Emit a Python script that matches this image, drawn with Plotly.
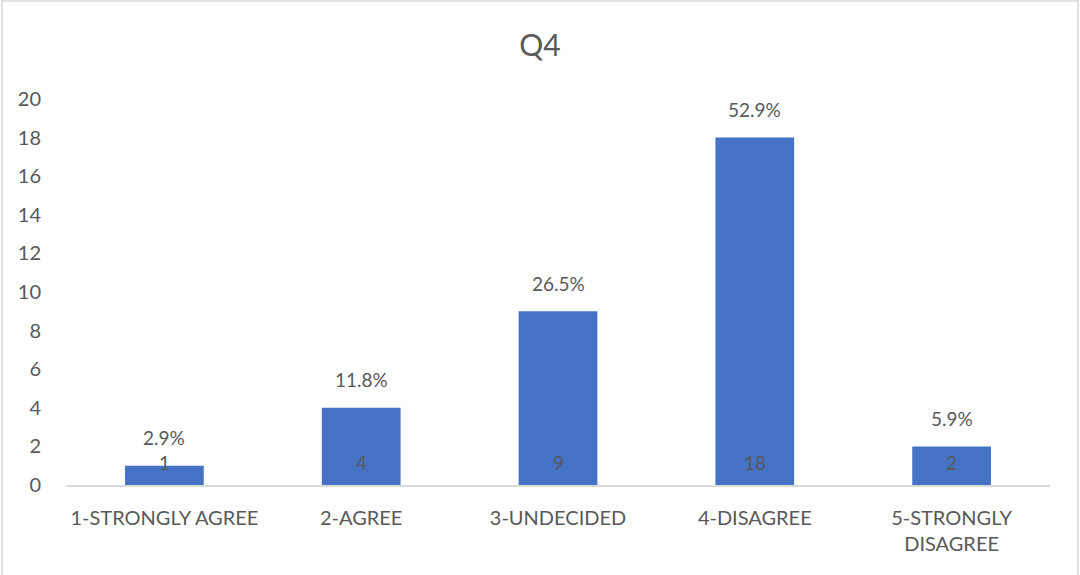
import plotly.graph_objects as go

# Survey responses for Q4
categories = ["1-STRONGLY AGREE", "2-AGREE", "3-UNDECIDED", "4-DISAGREE", "5-STRONGLY<br>DISAGREE"]
counts = [1, 4, 9, 18, 2]
y_ticks = [0, 2, 4, 6, 8, 10, 12, 14, 16, 18, 20]

total = sum(counts)
percent_labels = [f"{c / total * 100:.1f}%" for c in counts]

FONT = "Lato, Open Sans, sans-serif"
TEXT = "#595959"
BAR = "#4472C4"

fig = go.Figure(
    go.Bar(
        x=categories,
        y=counts,
        marker=dict(color=BAR, line=dict(width=0)),
        width=0.4,
        hoverinfo="x+y",
    )
)

annotations = []
for cat, c, p in zip(categories, counts, percent_labels):
    # percentage above the bar
    annotations.append(dict(
        x=cat, y=c, xref="x", yref="y", text=p, showarrow=False,
        yanchor="middle", yshift=28, font=dict(size=19, color=TEXT, family=FONT),
    ))
    # count near the bar base
    annotations.append(dict(
        x=cat, y=0, xref="x", yref="y", text=str(c), showarrow=False,
        yanchor="middle", yshift=23, font=dict(size=19, color=TEXT, family=FONT),
    ))

# light chart-area border
shapes = [dict(
    type="rect", xref="paper", yref="paper",
    x0=(2 - 66) / 984, x1=(1078 - 66) / 984,
    y0=-0.3, y1=(485 - 1) / 386,
    line=dict(color="#D9D9D9", width=1.5), fillcolor="rgba(0,0,0,0)", layer="below",
)]

fig.update_layout(
    width=1080, height=575,
    margin=dict(l=66, r=30, t=99, b=90),
    paper_bgcolor="white", plot_bgcolor="white",
    title=dict(text="Q4", x=0.5, xref="container", xanchor="center",
               y=1 - 45 / 575, yref="container", yanchor="middle",
               font=dict(size=30, color=TEXT, family=FONT)),
    font=dict(family=FONT, color=TEXT, size=20),
    showlegend=False,
    bargap=0.6,
    annotations=annotations,
    shapes=shapes,
)

fig.update_xaxes(
    showline=True, linecolor="#D9D9D9", linewidth=1.5,
    showgrid=False, ticks="outside", ticklen=14, tickcolor="rgba(0,0,0,0)",
    tickfont=dict(size=20, color=TEXT, family=FONT),
)
fig.update_yaxes(
    range=[0, 20], tickvals=y_ticks, showgrid=False, zeroline=False,
    showline=False, ticks="outside", ticklen=20, tickcolor="rgba(0,0,0,0)",
    tickfont=dict(size=20, color=TEXT, family=FONT),
)

fig.write_html("out.html")
